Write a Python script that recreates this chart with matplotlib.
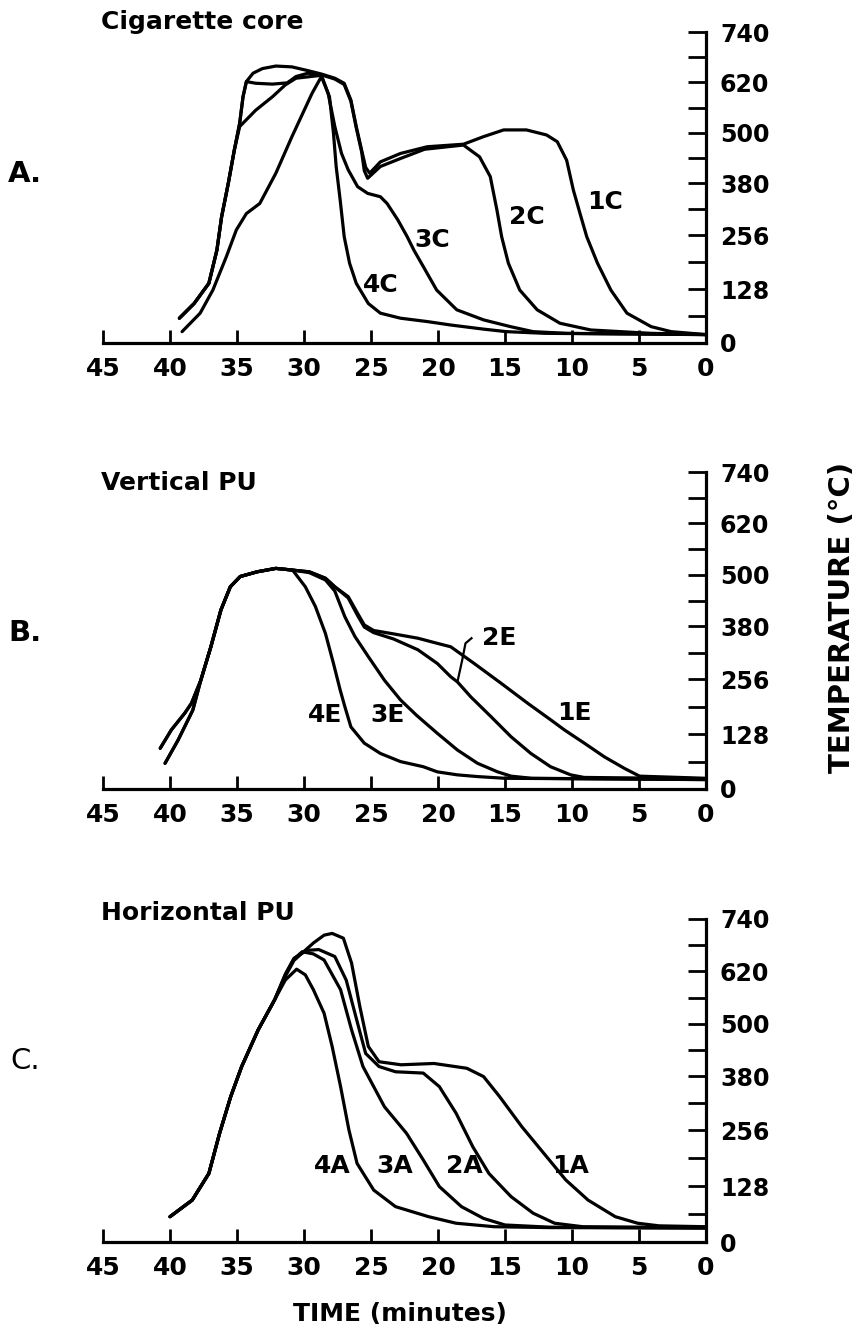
import matplotlib
matplotlib.use("Agg")
import matplotlib.pyplot as plt

plt.rcParams['font.family'] = ['DejaVu Sans']

W, H = 861, 1331

# ---- axis labels / ticks ----
x_ticks = [45, 40, 35, 30, 25, 20, 15, 10, 5, 0]
y_ticks = [0, 128, 256, 380, 500, 620, 740]
y_minor = [64, 192, 318, 440, 560, 680]

# ---- A. Cigarette core ----
a1_t = [39.3, 38.2, 37.1, 36.5, 36.15, 35.65, 35.2, 34.8, 34.55, 34.3, 33.8, 33.1, 32.1, 30.9, 29.7, 28.7,
        27.7, 27.0, 26.5, 26.1, 25.7, 25.4, 25.1, 24.3, 22.8, 20.8, 18.1, 16.6, 15.1, 13.4, 11.9, 11.1,
        10.4, 9.9, 9.4, 8.9, 8.1, 7.1, 5.9, 4.1, 2.6, 0.0]
a1_T = [59, 94, 142, 221, 300, 380, 459, 523, 586, 622, 642, 653, 659, 657, 648, 640,
        630, 618, 578, 515, 459, 418, 404, 431, 451, 467, 473, 491, 507, 507, 495, 479,
        435, 364, 308, 253, 190, 126, 71, 39, 27, 20]
a2_t = [39.3, 38.2, 37.1, 36.5, 36.15, 35.65, 35.2, 34.8, 34.55, 34.3, 33.6, 32.35, 31.25, 30.6, 29.7, 28.7,
        27.7, 27.0, 26.5, 26.1, 25.7, 25.5, 25.25, 24.3, 22.8, 21.0, 18.1, 16.9, 16.1, 15.6, 15.25, 14.75,
        13.9, 12.6, 10.9, 8.6, 4.1, 0.0]
a2_T = [59, 94, 142, 221, 300, 380, 459, 523, 586, 622, 618, 616, 619, 634, 642, 638,
        628, 615, 575, 512, 455, 410, 392, 420, 439, 461, 471, 443, 396, 316, 253, 190,
        126, 79, 47, 31, 23, 20]
a3_t = [39.3, 38.2, 37.1, 36.5, 36.15, 35.65, 35.2, 34.8, 33.6, 32.35, 31.4, 30.6, 28.7,
        28.2, 27.7, 27.2, 26.7, 26.0, 25.25, 24.3, 23.8, 23.0, 22.3, 21.8, 21.1, 20.1, 18.6,
        16.6, 14.6, 12.9, 10.4, 0.0]
a3_T = [59, 94, 142, 221, 300, 380, 459, 515, 554, 586, 614, 630, 637,
        594, 515, 451, 412, 372, 356, 348, 332, 293, 253, 221, 182, 126, 79,
        55, 39, 27, 23, 20]
a4_t = [39.1, 37.75, 36.8, 35.8, 35.05, 34.3, 33.3, 32.1, 30.9, 29.4, 28.7, 28.1, 27.8, 27.6, 27.3,
        27.0, 26.6, 26.1, 25.2, 24.3, 22.8, 20.8, 19.1, 16.6, 14.9, 12.0, 0.0]
a4_T = [27, 71, 126, 205, 269, 308, 332, 404, 491, 594, 634, 586, 499, 420, 340,
        253, 190, 142, 94, 71, 59, 51, 43, 33, 27, 23, 20]

# ---- B. Vertical PU ----
b1_t = [40.73, 39.9, 38.9, 38.4, 37.7, 36.95, 36.2, 35.5, 34.76, 33.5, 32.1, 30.85, 29.6, 28.4, 27.7,
        26.7, 26.0, 25.5, 24.8, 23.3, 21.5, 20.05, 19.05, 17.3, 15.3, 13.3, 11.57, 10.57, 9.08, 7.58,
        6.08, 4.96, 0.0]
b1_T = [95, 138, 177, 200, 254, 332, 418, 472, 496, 507, 515, 511, 507, 492, 472,
        449, 410, 383, 370, 362, 352, 340, 332, 293, 247, 200, 161, 138, 107, 75,
        48, 30, 25]
b2_t = [40.37, 39.4, 38.66, 38.3, 37.7, 36.95, 36.2, 35.5, 34.76, 33.5, 32.1, 30.85, 29.6, 28.4, 27.7,
        26.7, 26.0, 25.5, 24.8, 23.3, 21.5, 20.05, 19.05, 18.55, 17.55, 16.05, 14.55, 13.07, 11.6,
        10.1, 9.1, 0.0]
b2_T = [60, 114, 161, 184, 254, 332, 418, 472, 496, 507, 515, 511, 507, 492, 472,
        446, 405, 378, 365, 350, 325, 293, 262, 250, 215, 169, 122, 83, 52,
        33, 27, 24]
b3_t = [40.73, 39.9, 38.9, 38.4, 37.7, 36.95, 36.2, 35.5, 34.76, 33.5, 32.1, 30.85, 29.6, 28.4, 27.7,
        26.95, 26.2, 25.2, 24.0, 22.8, 21.6, 20.05, 18.55, 17.05, 15.55, 14.55, 13.0, 0.0]
b3_T = [95, 138, 177, 200, 254, 332, 418, 472, 496, 507, 515, 511, 505, 488, 462,
        402, 356, 309, 254, 208, 172, 130, 91, 60, 40, 30, 25, 22]
b4_t = [40.37, 39.4, 38.66, 38.3, 37.7, 36.95, 36.2, 35.5, 34.76, 33.5, 32.1, 30.85, 29.9, 29.15, 28.4,
        27.8, 27.3, 26.95, 26.5, 25.5, 24.3, 22.8, 21.1, 20.05, 18.55, 17.05, 15.0, 0.0]
b4_T = [60, 114, 161, 184, 254, 332, 418, 472, 496, 507, 515, 511, 472, 426, 363,
        293, 231, 192, 145, 107, 83, 64, 52, 40, 33, 29, 25, 22]

# ---- C. Horizontal PU ----
c1_t = [40.0, 38.34, 37.1, 36.3, 35.47, 34.65, 33.42, 32.19, 31.37, 30.75, 30.1, 29.3, 28.5, 27.9, 27.06,
        26.45, 25.83, 25.2, 24.4, 22.76, 20.3, 17.85, 16.6, 15.4, 13.74, 12.1, 10.46, 8.8, 6.77, 5.1,
        3.5, 0.0]
c1_T = [58, 96, 157, 249, 333, 402, 486, 555, 610, 645, 663, 685, 703, 707, 696,
        639, 539, 448, 413, 406, 409, 398, 379, 333, 264, 203, 142, 96, 58, 43,
        37, 35]
c2_t = [40.0, 38.34, 37.1, 36.3, 35.47, 34.65, 33.42, 32.19, 31.37, 30.75, 29.8, 28.9, 27.7, 26.85, 26.0,
        25.4, 24.4, 23.17, 21.1, 19.9, 18.65, 17.4, 16.2, 14.55, 12.9, 11.3, 9.2, 0.0]
c2_T = [58, 96, 157, 249, 333, 402, 486, 555, 615, 650, 668, 670, 654, 600, 501,
        432, 402, 390, 387, 356, 295, 218, 157, 104, 66, 43, 35, 33]
c3_t = [40.0, 38.34, 37.1, 36.3, 35.47, 34.65, 33.42, 32.19, 31.4, 30.75, 30.14, 29.3, 28.5, 27.27, 26.45,
        25.6, 24.0, 22.35, 21.1, 19.9, 18.25, 16.6, 15.0, 11.7, 0.0]
c3_T = [58, 96, 157, 249, 333, 402, 486, 555, 612, 648, 665, 660, 646, 578, 486,
        402, 310, 249, 188, 127, 81, 54, 39, 34, 32]
c4_t = [40.0, 38.34, 37.1, 36.3, 35.47, 34.65, 33.42, 32.19, 31.4, 30.55, 29.9, 29.3, 28.5, 27.9, 27.27,
        26.65, 26.04, 24.8, 23.17, 20.7, 18.65, 15.8, 11.7, 0.0]
c4_T = [58, 96, 157, 249, 333, 402, 486, 555, 600, 625, 612, 578, 524, 448, 356,
        257, 180, 119, 81, 58, 43, 35, 33, 32]

panels = [
    dict(title="Cigarette core", letter="A.", box=(32, 343), title_y=22, letter_y=174,
         curves=[(a1_t, a1_T), (a2_t, a2_T), (a3_t, a3_T), (a4_t, a4_T)],
         labels=[("1C", 7.5, 336), ("2C", 13.4, 300), ("3C", 20.4, 245), ("4C", 24.3, 138)]),
    dict(title="Vertical PU", letter="B.", box=(472, 789), title_y=483, letter_y=633,
         curves=[(b1_t, b1_T), (b2_t, b2_T), (b3_t, b3_T), (b4_t, b4_T)],
         labels=[("1E", 9.8, 177), ("2E", 15.4, 352), ("3E", 23.8, 172), ("4E", 28.4, 172)]),
    dict(title="Horizontal PU", letter="C.", box=(919, 1242), title_y=913, letter_y=1061,
         curves=[(c1_t, c1_T), (c2_t, c2_T), (c3_t, c3_T), (c4_t, c4_T)],
         labels=[("1A", 10.1, 174), ("2A", 18.05, 174), ("3A", 23.2, 174), ("4A", 27.9, 174)]),
]

fig = plt.figure(figsize=(W / 100, H / 100), dpi=100)

for p in panels:
    top, bot = p['box']
    ax = fig.add_axes([103 / W, 1 - bot / H, (706 - 103) / W, (bot - top) / H])
    for t, T in p['curves']:
        ax.plot(t, T, color='black', lw=2.3, solid_capstyle='round', solid_joinstyle='round')
    for s, t, T in p['labels']:
        ax.text(t, T, s, ha='center', va='center', fontsize=18, fontweight='bold')

    ax.set_xlim(45, 0)
    ax.set_ylim(0, 740)
    for side in ['left', 'top']:
        ax.spines[side].set_visible(False)
    for side in ['bottom', 'right']:
        ax.spines[side].set_linewidth(2.3)
    ax.yaxis.tick_right()
    ax.set_xticks(x_ticks)
    ax.set_xticklabels([str(v) for v in x_ticks], fontsize=18, fontweight='bold')
    ax.set_yticks(y_ticks)
    ax.set_yticklabels([str(v) for v in y_ticks], fontsize=17, fontweight='bold')
    ax.set_yticks(y_minor, minor=True)
    ax.tick_params(axis='x', direction='in', length=9.5, width=2, pad=10)
    ax.tick_params(axis='y', which='both', direction='in', length=13, width=2, pad=10)

    fig.text(101 / W, 1 - p['title_y'] / H, p['title'], ha='left', va='center',
             fontsize=18, fontweight='bold')
    fig.text(25 / W, 1 - p['letter_y'] / H, p['letter'], ha='center', va='center',
             fontsize=21, fontweight='bold' if p['letter'] != "C." else 'normal')

# leader line for the 2E label
ax_b = fig.axes[1]
ax_b.plot([18.55, 18.2, 17.95, 17.5], [250, 300, 340, 352], color='black', lw=1.6)

fig.text(842 / W, 1 - 617 / H, "TEMPERATURE (°C)", rotation=90, ha='center', va='center',
         fontsize=21, fontweight='bold')
fig.text(400 / W, 1 - 1314 / H, "TIME (minutes)", ha='center', va='center',
         fontsize=18, fontweight='bold')

fig.savefig("out.png", dpi=100, facecolor='white')
